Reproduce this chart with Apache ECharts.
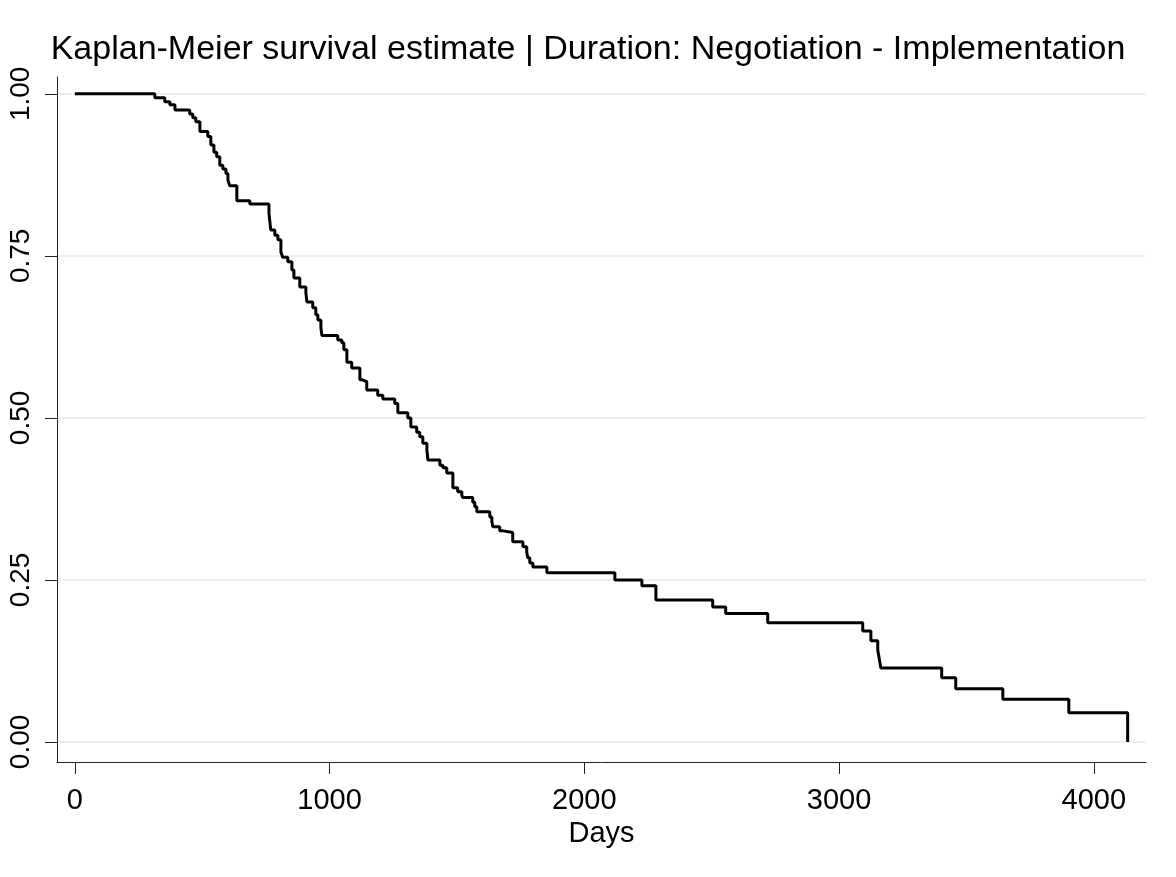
<!DOCTYPE html>
<html>
<head>
<meta charset="utf-8">
<script src="https://cdn.jsdelivr.net/npm/echarts@6/dist/echarts.min.js"></script>
<style>
html, body { margin: 0; padding: 0; background: #fff; }
#chart { width: 1176px; height: 877px; }
</style>
</head>
<body>
<div id="chart"></div>
<script>
// Kaplan-Meier step curve
const days = [0, 314, 353, 373, 393, 451, 463, 475, 491, 522, 534, 546, 557, 569, 581, 593, 601, 608, 636, 687,
  762, 769, 785, 797, 809, 816, 836, 852, 860, 883, 907, 911, 934, 946, 954, 966, 970,
  1032, 1048, 1056, 1068, 1087, 1119, 1127, 1146, 1189, 1209, 1256, 1268, 1307, 1319, 1342, 1354, 1366, 1382, 1386,
  1433, 1445, 1460, 1484, 1503, 1519, 1523, 1562, 1570, 1578, 1629, 1637, 1641, 1668, 1676, 1719, 1759, 1774, 1778, 1786, 1798,
  1853, 2120, 2226, 2281, 2504, 2555, 2720, 3093, 3125, 3152, 3158, 3164, 3403, 3458, 3643, 3902, 4133]
const survival = [1, 0.994, 0.988, 0.983, 0.975, 0.969, 0.963, 0.957, 0.942, 0.934, 0.921, 0.910, 0.903, 0.890, 0.884, 0.877, 0.867, 0.858, 0.835, 0.830,
  0.816, 0.790, 0.782, 0.775, 0.756, 0.748, 0.741, 0.728, 0.716, 0.702, 0.693, 0.679, 0.670, 0.659, 0.651, 0.639, 0.627,
  0.620, 0.616, 0.605, 0.586, 0.577, 0.559, 0.556, 0.543, 0.535, 0.529, 0.522, 0.508, 0.500, 0.486, 0.478, 0.471, 0.461, 0.451, 0.435,
  0.427, 0.423, 0.415, 0.392, 0.386, 0.381, 0.377, 0.370, 0.363, 0.355, 0.347, 0.340, 0.332, 0.326, 0.323, 0.309, 0.301, 0.293, 0.284, 0.276, 0.270,
  0.261, 0.250, 0.241, 0.219, 0.208, 0.198, 0.184, 0.171, 0.156, 0.142, 0.128, 0.114, 0.099, 0.082, 0.066, 0.045, 0]
const xTicks = [0, 1000, 2000, 3000, 4000]
const yTicks = [0, 0.25, 0.5, 0.75, 1]

const font = 'Liberation Sans, Arial, sans-serif'
const chart = echarts.init(document.getElementById('chart'), null, { renderer: 'canvas' })
const option = {
  backgroundColor: '#fff',
  animation: false,
  title: {
    text: 'Kaplan-Meier survival estimate | Duration: Negotiation - Implementation',
    left: 'center',
    top: 28,
    textStyle: { color: '#000', fontFamily: font, fontSize: 34, fontWeight: 'normal' }
  },
  grid: { left: 57, right: 30, top: 77, bottom: 115 },
  xAxis: {
    type: 'value',
    min: -70,
    max: 4205,
    name: 'Days',
    nameLocation: 'middle',
    nameGap: 43,
    nameTextStyle: { color: '#000', fontFamily: font, fontSize: 29 },
    axisLine: { show: true, onZero: false, lineStyle: { color: '#222', width: 1 } },
    axisTick: { show: true, length: 12, customValues: xTicks, lineStyle: { color: '#222', width: 1 } },
    axisLabel: {
      customValues: xTicks,
      margin: 24,
      color: '#000',
      fontFamily: font,
      fontSize: 29,
      formatter: (val) => String(val)
    },
    splitLine: { show: false }
  },
  yAxis: {
    type: 'value',
    min: -0.031,
    max: 1.026,
    axisLine: { show: true, onZero: false, lineStyle: { color: '#222', width: 1 } },
    axisTick: { show: true, length: 12, customValues: yTicks, lineStyle: { color: '#222', width: 1 } },
    axisLabel: {
      customValues: yTicks,
      rotate: 90,
      margin: 22,
      color: '#000',
      fontFamily: font,
      fontSize: 28,
      formatter: (val) => val.toFixed(2)
    },
    splitLine: { show: true, lineStyle: { color: '#EAF2F3', width: 2 } }
  },
  series: [{
    type: 'line',
    step: 'end',
    showSymbol: false,
    data: days.map((d, i) => [d, survival[i]]),
    lineStyle: { color: '#000', width: 3 }
  }]
}
chart.setOption(option)
</script>
</body>
</html>
